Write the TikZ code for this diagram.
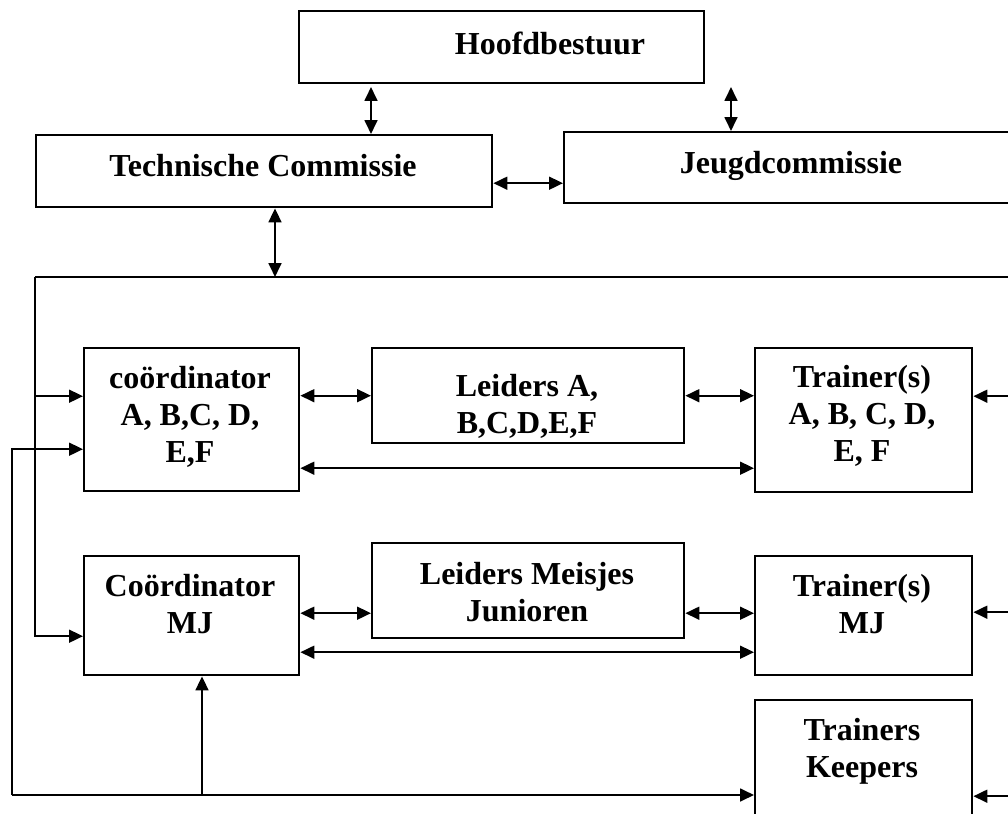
\documentclass[tikz,border=0pt]{standalone}
\usepackage{fontspec}
\setmainfont{Liberation Serif}
\usetikzlibrary{arrows.meta}
\newdimen\pu \pu=0.375pt

\begin{document}
\begin{tikzpicture}[x=0.375pt, y=-0.375pt, >={Triangle[length=5.2pt,width=4.8pt]}, line width=0.75pt,
    box/.style={draw=black, line width=0.9pt, anchor=north west, inner sep=0pt},
    lbl/.style={anchor=north, inner sep=0pt, align=center, text=black,
      font=\fontsize{12}{13.9}\selectfont\bfseries}]
  \clip (0,0) rectangle (1008,814);
  % boxes
  \node[box, minimum width=405\pu, minimum height=72\pu] (hoofd) at (298,10) {};
  \node[box, minimum width=456\pu, minimum height=72\pu] (tc) at (35,134) {};
  \node[box, minimum width=456\pu, minimum height=71\pu] (jc) at (563,131) {};
  \node[box, minimum width=215\pu, minimum height=143\pu] (coAF) at (83,347) {};
  \node[box, minimum width=312\pu, minimum height=95\pu] (ldAF) at (371,347) {};
  \node[box, minimum width=217\pu, minimum height=144\pu] (trAF) at (754,347) {};
  \node[box, minimum width=215\pu, minimum height=119\pu] (coMJ) at (83,555) {};
  \node[box, minimum width=312\pu, minimum height=95\pu] (ldMJ) at (371,542) {};
  \node[box, minimum width=217\pu, minimum height=119\pu] (trMJ) at (754,555) {};
  \node[box, minimum width=217\pu, minimum height=143\pu] (trK) at (754,699) {};
  % texts
  \node[lbl] (thoofd) at (550,31) {Hoofdbestuur};
  \node[lbl] (ttc) at (263,153) {Technische Commissie};
  \node[lbl] (tjc) at (791,150) {Jeugdcommissie};
  \node[lbl] (tcoAF) at (190,365) {coördinator\\A, B,C, D,\\E,F};
  \node[lbl] (tldAF) at (527,373) {Leiders A,\\B,C,D,E,F};
  \node[lbl] (ttrAF) at (862,364) {Trainer(s)\\A, B, C, D,\\E, F};
  \node[lbl] (tcoMJ) at (190,573) {Coördinator\\MJ};
  \node[lbl] (tldMJ) at (527,561) {Leiders Meisjes\\Junioren};
  \node[lbl] (ttrMJ) at (862,573) {Trainer(s)\\MJ};
  \node[lbl] (ttrK) at (862,717) {Trainers\\Keepers};
  % free ends
  \coordinate (ht) at (371,87);
  \coordinate (hj) at (731,87);
  \coordinate (tcb) at (275,277);
  \coordinate (busL) at (35,277);
  \coordinate (busR) at (1030,277);
  \coordinate (outL) at (12,795);
  \coordinate (upM) at (202,795);
  \coordinate (rt) at (1030,0);
  % top part
  \draw[<->] (ht) -- (tc.north -| ht);
  \draw[<->] (hj) -- (jc.north -| hj);
  \draw[<->] ([shift={(0,12)}]tc.east) -- ([shift={(0,12)}]tc.east -| jc.west);
  \draw[<->] (tc.south -| tcb) -- (tcb);
  \draw (busR) -- (busL);
  \draw[->] (busL) |- ([shift={(0,20.5)}]coMJ.west);
  \draw[->] ([shift={(0,-23.5)}]coAF.west -| busL) -- ([shift={(0,-23.5)}]coAF.west);
  % rows
  \draw[<->] (ldAF.west -| coAF.east) -- (ldAF.west);
  \draw[<->] (ldAF.east) -- (ldAF.east -| trAF.west);
  \draw[<->] ([shift={(0,48.5)}]coAF.east) -- ([shift={(0,48.5)}]coAF.east -| trAF.west);
  \draw[<->] ([shift={(0,22.5)}]ldMJ.west -| coMJ.east) -- ([shift={(0,22.5)}]ldMJ.west);
  \draw[<->] ([shift={(0,22.5)}]ldMJ.east) -- ([shift={(0,22.5)}]ldMJ.east -| trMJ.west);
  \draw[<->] ([shift={(0,36.5)}]coMJ.east) -- ([shift={(0,36.5)}]coMJ.east -| trMJ.west);
  % outer loop
  \draw[->] (outL) |- ([shift={(0,29.5)}]coAF.west);
  \draw[->] (outL) -- (outL -| trK.west);
  \draw[->] (upM) -- (upM |- coMJ.south);
  % from the right
  \draw[->] ([shift={(0,-24)}]trAF.east -| rt) -- ([shift={(0,-24)}]trAF.east);
  \draw[->] ([shift={(0,-3.5)}]trMJ.east -| rt) -- ([shift={(0,-3.5)}]trMJ.east);
  \draw[->] ([shift={(0,24.5)}]trK.east -| rt) -- ([shift={(0,24.5)}]trK.east);
\end{tikzpicture}
\end{document}
